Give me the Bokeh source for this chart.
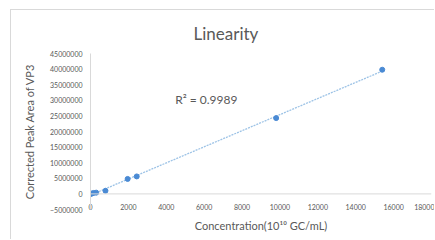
import numpy as np
from bokeh.plotting import figure
from bokeh.models import ColumnDataSource, FixedTicker, BasicTickFormatter, Span, Label, Title, Range1d
from bokeh.embed import file_html
from bokeh.resources import INLINE

# ---- data ----
concentration = [10, 60, 160, 300, 790, 1960, 2440, 9800, 15400]
peak_area = [0, 100000, 300000, 400000, 1000000, 4800000, 5600000, 24300000, 39800000]
x_ticks = [0, 2000, 4000, 6000, 8000, 10000, 12000, 14000, 16000, 18000]
y_ticks = [-5000000, 0, 5000000, 10000000, 15000000, 20000000, 25000000,
           30000000, 35000000, 40000000, 45000000]
title_text = "Linearity"
x_title = "Concentration(10\u00b9\u2070 GC/mL)"
y_title = "Corrected Peak Area of VP3"
r2_text = "R\u00b2 = 0.9989"

FONT = "Lato"
GRAY = "#595959"

# linear trendline from data
slope, intercept = np.polyfit(concentration, peak_area, 1)
tx = [min(concentration), max(concentration)]
ty = [slope * v + intercept for v in tx]

p = figure(width=424, height=230, output_backend="svg", toolbar_location=None,
           x_range=Range1d(x_ticks[0], x_ticks[-1]),
           y_range=Range1d(y_ticks[0], y_ticks[-1]),
           min_border_left=79, min_border_right=4, min_border_top=43, min_border_bottom=31)
p.styles = {"margin-left": "10px", "margin-top": "9px",
            "border-left": "1px solid #d9d9d9", "border-top": "1px solid #d9d9d9"}
p.background_fill_color = "white"
p.border_fill_color = "white"
p.outline_line_color = None
p.xgrid.visible = False
p.ygrid.visible = False

# title
p.title = Title(text=title_text, text_font=FONT, text_font_size="17px",
                text_color=GRAY, text_font_style="normal", align="left",
                offset=103, standoff=19)

# axes
xa = p.xaxis[0]
xa.ticker = FixedTicker(ticks=x_ticks)
xa.axis_line_color = None
xa.major_tick_line_color = None
xa.minor_tick_line_color = None
xa.major_tick_out = 0
xa.major_tick_in = 0
xa.major_label_standoff = -6
xa.major_label_text_font = FONT
xa.major_label_text_font_size = "7px"
xa.major_label_text_color = GRAY
xa.axis_label = x_title
xa.axis_label_text_font = FONT
xa.axis_label_text_font_size = "11px"
xa.axis_label_text_font_style = "normal"
xa.axis_label_text_color = GRAY
xa.axis_label_standoff = 6

ya = p.yaxis[0]
ya.ticker = FixedTicker(ticks=y_ticks)
ya.formatter = BasicTickFormatter(use_scientific=False)
ya.axis_line_color = "#d9d9d9"
ya.major_tick_line_color = None
ya.minor_tick_line_color = None
ya.major_tick_out = 0
ya.major_tick_in = 0
ya.major_label_standoff = 8
ya.major_label_text_font = FONT
ya.major_label_text_font_size = "7px"
ya.major_label_text_color = GRAY
ya.axis_label = y_title
ya.axis_label_text_font = FONT
ya.axis_label_text_font_size = "11px"
ya.axis_label_text_font_style = "normal"
ya.axis_label_text_color = GRAY
ya.axis_label_standoff = 11

# horizontal axis line at zero
p.add_layout(Span(location=y_ticks[1], dimension="width", line_color="#d9d9d9", line_width=1))

# trendline
p.line(tx, ty, line_color="#9dc3e6", line_width=1.3, line_dash="2 1")

# points
src = ColumnDataSource(dict(x=concentration, y=peak_area))
p.scatter("x", "y", source=src, size=5, fill_color="#4a8ad4", line_color="#4a8ad4")

# R^2 label
p.add_layout(Label(x=4470, y=30200000, text=r2_text, text_font=FONT,
                   text_font_size="12px", text_color=GRAY,
                   text_align="left", text_baseline="middle"))

open("out.html", "w").write(file_html(p, INLINE))
